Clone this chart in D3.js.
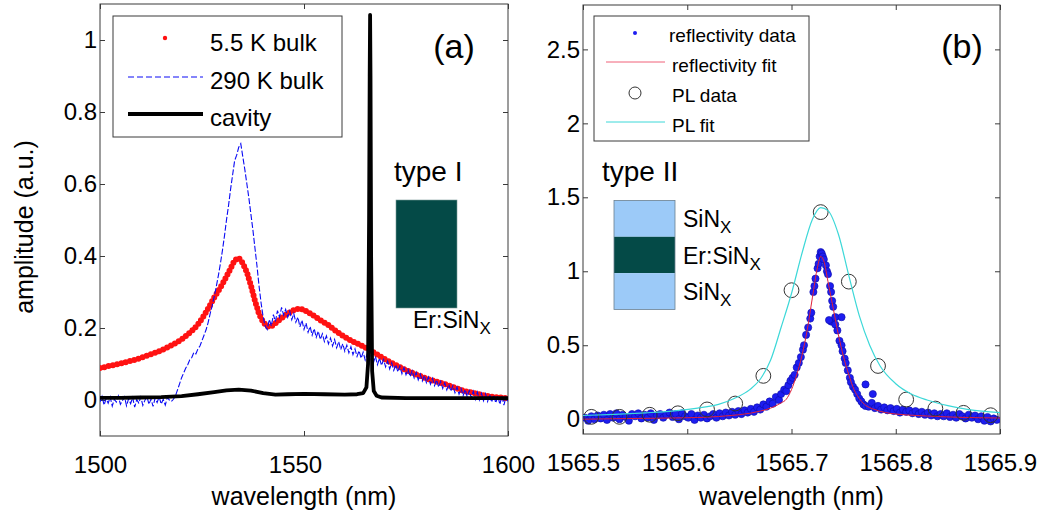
<!DOCTYPE html>
<html>
<head>
  <meta charset="utf-8">
  <title>Er:SiNx emission and cavity spectra</title>
  <script src="https://cdn.jsdelivr.net/npm/d3@7"></script>
  <style>
    body { margin: 0; background: #fff; }
    svg text { font-family: "Liberation Sans", Arial, Helvetica, sans-serif; fill: #000; }
  </style>
</head>
<body>
<svg id="chart" width="1044" height="519"></svg>
<script>
  // ---- panel (a) ----
  var gridA = d3.range(0, 101).map(i => 1500 + i);        // 1 nm grid, 5.5 K bulk
  var bulk5K = [
    0.089, 0.091, 0.094, 0.096, 0.099, 0.101, 0.104, 0.107, 0.110, 0.113,
    0.117, 0.121, 0.125, 0.129, 0.133, 0.138, 0.143, 0.149, 0.155, 0.161,
    0.168, 0.177, 0.187, 0.197, 0.210, 0.226, 0.244, 0.264, 0.285, 0.303,
    0.322, 0.343, 0.365, 0.388, 0.395, 0.380, 0.355, 0.318, 0.275, 0.238,
    0.216, 0.204, 0.205, 0.213, 0.223, 0.232, 0.240, 0.247, 0.252, 0.254,
    0.250, 0.244, 0.237, 0.230, 0.222, 0.215, 0.208, 0.199, 0.190, 0.182,
    0.175, 0.168, 0.162, 0.157, 0.152, 0.146, 0.140, 0.133, 0.126, 0.119,
    0.112, 0.106, 0.100, 0.094, 0.088, 0.083, 0.078, 0.073, 0.069, 0.064,
    0.060, 0.056, 0.053, 0.049, 0.046, 0.042, 0.038, 0.034, 0.030, 0.026,
    0.023, 0.021, 0.018, 0.016, 0.013, 0.011, 0.009, 0.008, 0.007, 0.006,
    0.005
  ];
  var gridB = d3.range(0, 201).map(i => 1500 + i * 0.5);  // 0.5 nm grid, 290 K bulk
  var bulk290K = [
    -0.005, 0.010, -0.014, 0.004, -0.009, 0.008, -0.017, 0.002, -0.006, 0.011,
    -0.012, -0.002, 0.009, -0.016, 0.003, -0.010, 0.007, -0.020, 0.001, -0.008,
    0.008, -0.015, -0.001, 0.010, -0.012, 0.003, -0.018, 0.005, -0.007, 0.009,
    -0.011, 0.002, -0.014, 0.007, 0.000, -0.004, 0.002, 0.012, 0.028, 0.045,
    0.062, 0.075, 0.088, 0.098, 0.112, 0.118, 0.132, 0.128, 0.142, 0.150,
    0.165, 0.180, 0.195, 0.215, 0.240, 0.262, 0.288, 0.315, 0.345, 0.378,
    0.415, 0.455, 0.500, 0.540, 0.585, 0.625, 0.665, 0.680, 0.702, 0.712,
    0.676, 0.640, 0.600, 0.560, 0.515, 0.470, 0.420, 0.370, 0.315, 0.268,
    0.230, 0.205, 0.196, 0.224, 0.206, 0.237, 0.218, 0.248, 0.230, 0.257,
    0.236, 0.252, 0.230, 0.247, 0.223, 0.240, 0.216, 0.230, 0.203, 0.222,
    0.196, 0.214, 0.188, 0.204, 0.180, 0.198, 0.174, 0.191, 0.168, 0.184,
    0.162, 0.178, 0.156, 0.172, 0.150, 0.168, 0.145, 0.162, 0.140, 0.156,
    0.135, 0.152, 0.131, 0.148, 0.126, 0.142, 0.121, 0.137, 0.116, 0.133,
    0.111, 0.128, 0.108, 0.124, 0.103, 0.121, 0.098, 0.116, 0.096, 0.112,
    0.092, 0.108, 0.086, 0.103, 0.082, 0.098, 0.078, 0.094, 0.073, 0.090,
    0.070, 0.085, 0.065, 0.081, 0.061, 0.077, 0.056, 0.072, 0.053, 0.068,
    0.048, 0.064, 0.044, 0.060, 0.040, 0.056, 0.036, 0.052, 0.032, 0.048,
    0.028, 0.044, 0.024, 0.040, 0.020, 0.036, 0.016, 0.032, 0.012, 0.029,
    0.009, 0.026, 0.006, 0.024, 0.002, 0.022, 0.000, 0.019, -0.002, 0.017,
    -0.004, 0.015, -0.006, 0.014, -0.008, 0.012, -0.012, 0.011, -0.014, 0.008,
    -0.004
  ];
  var cavity = [
    [1500, 0.006], [1505, 0.006], [1510, 0.007], [1515, 0.008], [1520, 0.011],
    [1524, 0.016], [1528, 0.022], [1531, 0.027], [1534, 0.029], [1537, 0.026],
    [1540, 0.019], [1543, 0.015], [1546, 0.016], [1550, 0.017], [1555, 0.016],
    [1560, 0.015], [1563, 0.016], [1564.5, 0.019], [1565.3, 0.035], [1565.7, 0.10],
    [1565.95, 0.50], [1566.1, 0.90], [1566.2, 1.07], [1566.3, 0.90], [1566.45, 0.40],
    [1566.7, 0.08], [1567.1, 0.025], [1567.8, 0.012], [1569, 0.007], [1575, 0.005],
    [1580, 0.005], [1590, 0.005], [1600, 0.005]
  ];
  var ticksAx = [1500, 1550, 1600];
  var ticksAy = [0, 0.2, 0.4, 0.6, 0.8, 1];

  // ---- panel (b) ----
  var reflData = [
    [1565.502, 0.010], [1565.505, -0.010], [1565.508, 0.020], [1565.511, 0.000], [1565.514, 0.025],
    [1565.517, 0.005], [1565.520, 0.030], [1565.523, -0.005], [1565.526, 0.035], [1565.529, 0.010],
    [1565.532, 0.040], [1565.535, 0.000], [1565.538, 0.030], [1565.541, 0.015], [1565.544, -0.010],
    [1565.547, 0.035], [1565.550, 0.020], [1565.553, 0.040], [1565.556, 0.005], [1565.559, 0.030],
    [1565.562, 0.010], [1565.565, 0.040], [1565.568, -0.005], [1565.571, 0.025], [1565.574, 0.035],
    [1565.577, 0.010], [1565.580, 0.030], [1565.583, 0.045], [1565.586, 0.015], [1565.589, 0.035],
    [1565.592, 0.000], [1565.595, 0.040], [1565.598, 0.020], [1565.601, 0.010], [1565.604, 0.035],
    [1565.607, -0.005], [1565.610, 0.025], [1565.613, 0.010], [1565.616, 0.030], [1565.619, 0.005],
    [1565.622, 0.020], [1565.625, 0.035], [1565.628, 0.010], [1565.631, 0.040], [1565.634, 0.020],
    [1565.637, 0.045], [1565.640, 0.025], [1565.643, 0.050], [1565.646, 0.030], [1565.649, 0.055],
    [1565.652, 0.035], [1565.655, 0.060], [1565.658, 0.045], [1565.661, 0.070], [1565.664, 0.050],
    [1565.667, 0.080], [1565.670, 0.065], [1565.673, 0.100], [1565.676, 0.085], [1565.679, 0.120],
    [1565.682, 0.105], [1565.685, 0.150], [1565.688, 0.130], [1565.690, 0.170], [1565.693, 0.200],
    [1565.695, 0.190], [1565.697, 0.230], [1565.699, 0.260], [1565.701, 0.280], [1565.703, 0.300],
    [1565.705, 0.350], [1565.707, 0.380], [1565.709, 0.420], [1565.711, 0.470], [1565.712, 0.500],
    [1565.714, 0.570], [1565.716, 0.620], [1565.718, 0.680], [1565.719, 0.720], [1565.721, 0.860],
    [1565.722, 0.900], [1565.723, 0.950], [1565.725, 1.020], [1565.726, 1.050], [1565.727, 1.100],
    [1565.728, 1.130], [1565.729, 1.120], [1565.730, 1.100], [1565.731, 1.080], [1565.733, 1.040],
    [1565.734, 1.000], [1565.735, 0.980], [1565.737, 0.900], [1565.738, 0.860], [1565.739, 0.800],
    [1565.740, 0.760], [1565.738, 0.660], [1565.736, 0.670], [1565.742, 0.690], [1565.748, 0.690],
    [1565.742, 0.640], [1565.744, 0.600], [1565.746, 0.530], [1565.748, 0.500], [1565.749, 0.460],
    [1565.751, 0.410], [1565.752, 0.380], [1565.754, 0.330], [1565.756, 0.280], [1565.757, 0.250],
    [1565.759, 0.220], [1565.761, 0.200], [1565.763, 0.170], [1565.765, 0.140], [1565.767, 0.120],
    [1565.769, 0.100], [1565.771, 0.235], [1565.778, 0.170], [1565.771, 0.090], [1565.774, 0.085],
    [1565.777, 0.110], [1565.780, 0.075], [1565.783, 0.090], [1565.786, 0.065], [1565.789, 0.080],
    [1565.792, 0.060], [1565.795, 0.075], [1565.798, 0.055], [1565.801, 0.070], [1565.804, 0.045],
    [1565.807, 0.065], [1565.810, 0.050], [1565.813, 0.060], [1565.816, 0.040], [1565.819, 0.055],
    [1565.822, 0.035], [1565.825, 0.050], [1565.828, 0.030], [1565.831, 0.045], [1565.834, 0.025],
    [1565.837, 0.040], [1565.840, 0.020], [1565.843, 0.035], [1565.846, 0.020], [1565.849, 0.040],
    [1565.852, 0.015], [1565.855, 0.030], [1565.858, 0.010], [1565.861, 0.035], [1565.864, 0.020],
    [1565.867, 0.005], [1565.870, 0.030], [1565.873, 0.010], [1565.876, 0.025], [1565.879, 0.000],
    [1565.882, 0.020], [1565.885, -0.010], [1565.888, 0.015], [1565.891, -0.015], [1565.894, 0.005],
    [1565.897, -0.005]
  ];
  var reflFit = [
    [1565.50, 0.000], [1565.55, 0.005], [1565.60, 0.010], [1565.62, 0.014], [1565.64, 0.024],
    [1565.66, 0.040], [1565.67, 0.055], [1565.68, 0.075], [1565.69, 0.110], [1565.695, 0.135],
    [1565.70, 0.200], [1565.705, 0.300], [1565.71, 0.430], [1565.715, 0.600], [1565.72, 0.820],
    [1565.725, 1.030], [1565.728, 1.100], [1565.731, 1.070], [1565.735, 0.930], [1565.74, 0.750],
    [1565.745, 0.570], [1565.75, 0.420], [1565.755, 0.300], [1565.76, 0.200], [1565.765, 0.140],
    [1565.77, 0.100], [1565.78, 0.065], [1565.79, 0.045], [1565.80, 0.035], [1565.82, 0.025],
    [1565.84, 0.018], [1565.86, 0.013], [1565.88, 0.010], [1565.90, 0.008]
  ];
  var plData = [
    [1565.508, 0.016], [1565.535, 0.016], [1565.564, 0.030], [1565.591, 0.040], [1565.619, 0.066],
    [1565.646, 0.106], [1565.673, 0.293], [1565.700, 0.872], [1565.728, 1.400], [1565.755, 0.930],
    [1565.783, 0.360], [1565.810, 0.133], [1565.838, 0.072], [1565.865, 0.043], [1565.891, 0.027]
  ];
  var plFit = [
    [1565.50, 0.025], [1565.53, 0.032], [1565.56, 0.043], [1565.59, 0.058], [1565.61, 0.075],
    [1565.63, 0.100], [1565.645, 0.140], [1565.66, 0.200], [1565.67, 0.270], [1565.68, 0.400],
    [1565.69, 0.620], [1565.70, 0.850], [1565.71, 1.120], [1565.72, 1.350], [1565.728, 1.430],
    [1565.735, 1.410], [1565.745, 1.250], [1565.755, 0.970], [1565.765, 0.700], [1565.775, 0.500],
    [1565.785, 0.360], [1565.80, 0.240], [1565.815, 0.170], [1565.83, 0.130], [1565.85, 0.092],
    [1565.87, 0.065], [1565.90, 0.045]
  ];
  var ticksBx = [1565.5, 1565.6, 1565.7, 1565.8, 1565.9];
  var ticksBy = [0, 0.5, 1, 1.5, 2, 2.5];

  var FONT = '"Liberation Sans", Arial, Helvetica, sans-serif';
  var svg = d3.select('#chart');

  var xA = d3.scaleLinear().domain([1500, 1600]).range([100, 508]);
  var yA = d3.scaleLinear().domain([-0.1, 1.1]).range([436, 4]);
  var xB = d3.scaleLinear().domain([1565.5, 1565.9]).range([583, 1000]);
  var yB = d3.scaleLinear().domain([-0.1, 2.8]).range([434, 5]);

  function frame(x, y, xt, yt, id) {
    var x0 = x.range()[0], x1 = x.range()[1], y0 = y.range()[0], y1 = y.range()[1];
    var g = svg.append('g');
    svg.append('clipPath').attr('id', id)
      .append('rect').attr('x', x0).attr('y', y1).attr('width', x1 - x0).attr('height', y0 - y1);

    var sides = [
      [d3.axisBottom(x).tickValues(xt), 'translate(0,' + y0 + ')', true],
      [d3.axisTop(x).tickValues(xt), 'translate(0,' + y1 + ')', false],
      [d3.axisLeft(y).tickValues(yt), 'translate(' + x0 + ',0)', true],
      [d3.axisRight(y).tickValues(yt), 'translate(' + x1 + ',0)', false]
    ];
    sides.forEach(s => {
      var ax = s[0].tickSizeInner(-5).tickSizeOuter(0).tickFormat(s[2] ? d3.format('') : '');
      var a = g.append('g').attr('transform', s[1]).call(ax)
        .attr('font-size', 24).attr('font-family', FONT).attr('color', '#3a3a3a');
      a.select('.domain').remove();
      a.selectAll('text').attr('fill', '#000');
    });
    g.selectAll('g').filter((d, i) => i == 0).selectAll('.tick text').attr('y', 20);
    g.selectAll('g').filter((d, i) => i == 2).selectAll('.tick text').attr('x', -9);

    g.append('rect').attr('x', x0).attr('y', y1).attr('width', x1 - x0).attr('height', y0 - y1)
      .attr('fill', 'none').attr('stroke', '#3a3a3a').attr('stroke-width', 1);

    svg.append('text').attr('x', (x0 + x1) / 2).attr('y', 505)
      .attr('text-anchor', 'middle').attr('font-size', 25).text('wavelength (nm)');
    return svg.append('g').attr('clip-path', 'url(#' + id + ')');
  }

  // ---------- panel (a) ----------
  var pA = frame(xA, yA, ticksAx, ticksAy, 'clipA');

  // red point markers laid along the 5.5 K trace
  pA.append('path')
    .datum(bulk5K)
    .attr('d', d3.line().x((d, i) => xA(gridA[i])).y(d => yA(d)))
    .attr('fill', 'none')
    .attr('stroke', '#ff1212')
    .attr('stroke-width', 6)
    .attr('stroke-linecap', 'round')
    .attr('stroke-dasharray', '0,4.4');

  pA.append('path')
    .datum(bulk290K)
    .attr('d', d3.line().x((d, i) => xA(gridB[i])).y(d => yA(d)))
    .attr('fill', 'none')
    .attr('stroke', '#0a0af5')
    .attr('stroke-width', 1.1)
    .attr('stroke-dasharray', '6,2');

  pA.append('path')
    .datum(cavity)
    .attr('d', d3.line().x(d => xA(d[0])).y(d => yA(d[1])))
    .attr('fill', 'none')
    .attr('stroke', '#000')
    .attr('stroke-width', 3.8)
    .attr('stroke-linejoin', 'round');

  svg.append('text').attr('x', 454).attr('y', 58).attr('text-anchor', 'middle')
    .attr('font-size', 34).text('(a)');

  svg.append('text')
    .attr('transform', 'translate(33,227) rotate(-90)')
    .attr('text-anchor', 'middle').attr('font-size', 25).text('amplitude (a.u.)');

  // legend (a)
  var legA = svg.append('g');
  legA.append('rect').attr('x', 113).attr('y', 16).attr('width', 229).attr('height', 121)
    .attr('fill', '#fff').attr('stroke', '#3a3a3a');
  legA.append('circle').attr('cx', 165).attr('cy', 38).attr('r', 2.2).attr('fill', '#ff1010');
  legA.append('line').attr('x1', 128).attr('x2', 203).attr('y1', 77).attr('y2', 77)
    .attr('stroke', '#0a0af5').attr('stroke-width', 1).attr('stroke-dasharray', '6,3');
  legA.append('line').attr('x1', 128).attr('x2', 203).attr('y1', 114).attr('y2', 114)
    .attr('stroke', '#000').attr('stroke-width', 4);
  [['5.5 K bulk', 51], ['290 K bulk', 89], ['cavity', 126]].forEach(t => {
    legA.append('text').attr('x', 210).attr('y', t[1]).attr('font-size', 24).text(t[0]);
  });

  // type I inset
  svg.append('text').attr('x', 394).attr('y', 181).attr('font-size', 28).text('type I');
  svg.append('rect').attr('x', 396).attr('y', 200).attr('width', 61).attr('height', 108)
    .attr('fill', '#044a47').attr('stroke', '#7a9a98').attr('stroke-width', 0.6);
  var erA = svg.append('text').attr('x', 413).attr('y', 328).attr('font-size', 23);
  erA.append('tspan').text('Er:SiN');
  erA.append('tspan').attr('dy', 6).attr('font-size', 17).text('X');

  // ---------- panel (b) ----------
  var pB = frame(xB, yB, ticksBx, ticksBy, 'clipB');

  pB.selectAll('.rd')
    .data(reflData)
    .enter()
    .append('circle')
    .attr('cx', d => xB(d[0]))
    .attr('cy', d => yB(d[1]))
    .attr('r', 3.6)
    .attr('fill', '#1d1df0')
    .attr('stroke', '#0b0ba8')
    .attr('stroke-width', 0.6);

  pB.append('path')
    .datum(reflFit)
    .attr('d', d3.line().curve(d3.curveMonotoneX).x(d => xB(d[0])).y(d => yB(d[1])))
    .attr('fill', 'none')
    .attr('stroke', '#e0203a')
    .attr('stroke-width', 1);

  pB.selectAll('.pl')
    .data(plData)
    .enter()
    .append('circle')
    .attr('cx', d => xB(d[0]))
    .attr('cy', d => yB(d[1]))
    .attr('r', 7.4)
    .attr('fill', 'none')
    .attr('stroke', '#333')
    .attr('stroke-width', 1);

  pB.append('path')
    .datum(plFit)
    .attr('d', d3.line().curve(d3.curveMonotoneX).x(d => xB(d[0])).y(d => yB(d[1])))
    .attr('fill', 'none')
    .attr('stroke', '#3cd8d8')
    .attr('stroke-width', 1.2);

  svg.append('text').attr('x', 962).attr('y', 58).attr('text-anchor', 'middle')
    .attr('font-size', 34).text('(b)');

  // legend (b)
  var legB = svg.append('g');
  legB.append('rect').attr('x', 594).attr('y', 16).attr('width', 215).attr('height', 125)
    .attr('fill', '#fff').attr('stroke', '#3a3a3a');
  legB.append('circle').attr('cx', 635).attr('cy', 33).attr('r', 2).attr('fill', '#1d1df0');
  legB.append('line').attr('x1', 606).attr('x2', 665).attr('y1', 62).attr('y2', 62)
    .attr('stroke', '#f06078').attr('stroke-width', 1);
  legB.append('circle').attr('cx', 635).attr('cy', 93).attr('r', 6).attr('fill', 'none')
    .attr('stroke', '#333');
  legB.append('line').attr('x1', 606).attr('x2', 665).attr('y1', 122).attr('y2', 122)
    .attr('stroke', '#3cd8d8').attr('stroke-width', 1);
  [['reflectivity data', 669, 42], ['reflectivity fit', 672, 72], ['PL data', 672, 102], ['PL fit', 672, 132]]
    .forEach(t => {
      legB.append('text').attr('x', t[1]).attr('y', t[2]).attr('font-size', 19).text(t[0]);
    });

  // type II inset
  svg.append('text').attr('x', 602).attr('y', 181).attr('font-size', 28).text('type II');
  var layers = [['#9ccaf8', 'SiN', 227], ['#044a47', 'Er:SiN', 264], ['#9ccaf8', 'SiN', 300]];
  layers.forEach((l, i) => {
    svg.append('rect').attr('x', 614).attr('y', 200.5 + i * 36.3).attr('width', 61).attr('height', 36.3)
      .attr('fill', l[0]);
    var t = svg.append('text').attr('x', 683).attr('y', l[2]).attr('font-size', 23);
    t.append('tspan').text(l[1]);
    t.append('tspan').attr('dy', 6).attr('font-size', 17).text('X');
  });
  svg.append('rect').attr('x', 614).attr('y', 200.5).attr('width', 61).attr('height', 108.9)
    .attr('fill', 'none').attr('stroke', '#6a7f90').attr('stroke-width', 0.8);
</script>
</body>
</html>
